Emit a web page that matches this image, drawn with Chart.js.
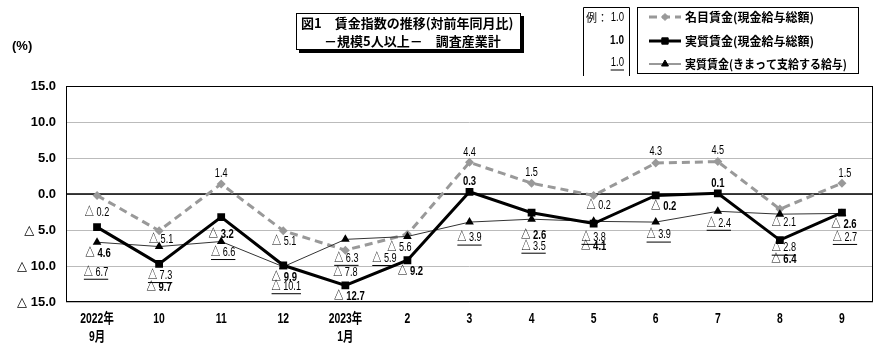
<!DOCTYPE html>
<html>
<head>
<meta charset="utf-8">
<script src="https://cdn.jsdelivr.net/npm/chart.js@4/dist/chart.umd.min.js"></script>
<style>
    body { margin: 0; background: #fff; }
    #wrap { position: relative; width: 890px; height: 353px; }
</style>
</head>
<body>
<div id="wrap"><canvas id="chartWages" width="890" height="353"></canvas></div>
<script>
const months = [['2022年', '9月'], '10', '11', '12', ['2023年', '1月'], '2', '3', '4', '5', '6', '7', '8', '9'];
const nominalWages = [-0.2, -5.1, 1.4, -5.1, -7.8, -5.6, 4.4, 1.5, -0.2, 4.3, 4.5, -2.1, 1.5];
const realWages = [-4.6, -9.7, -3.2, -9.9, -12.7, -9.2, 0.3, -2.6, -4.1, -0.2, 0.1, -6.4, -2.6];
const realScheduled = [-6.7, -7.3, -6.6, -10.1, -6.3, -5.9, -3.9, -3.5, -3.8, -3.9, -2.4, -2.8, -2.7];
const yTicks = [15, 10, 5, 0, -5, -10, -15];
const seriesNames = ['名目賃金(現金給与総額)', '実質賃金(現金給与総額)', '実質賃金(きまって支給する給与)'];

// label nudges [dx, dy] relative to each point (hand placed like the original)
const nominalLabelPos = [[0, 17], [2, 9], [0, -10], [1, 11], [0, 23], [-8, 13], [0, -10], [0, -11], [5, 10], [0, -11], [0, -11], [4, 14], [3, -10]];
const realLabelPos = [[1, 26], [0, 24], [0, 18], [1, 12], [4, 11], [3, 11], [0, -10], [2, 23], [0, 23], [8, 11], [0, -10], [4, 19], [2, 12]];
const schedLabelPos = [[-1, 30], [1, 29], [2, 11], [3, 20], [1, 19], [-23, 22], [0, 16], [2, 27], [0, 16], [3, 13], [1, 12], [4, 34], [3, 24]];

const sans = '"Liberation Sans", "Noto Sans CJK JP", sans-serif';
const jp = '"Noto Sans CJK JP", sans-serif';

function fmt(v) {
    return v < 0 ? '△ ' + Math.abs(v).toFixed(1) : v.toFixed(1);
}

// draw text squeezed horizontally, like the narrow font of the original
function squeezed(ctx, txt, x, y, k) {
    const w = ctx.measureText(txt).width * k;
    ctx.fillText(txt, x, y, w);
    return w;
}

const labelPlugin = {
    id: 'pointLabels',
    afterDatasetsDraw(chart) {
        const ctx = chart.ctx;
        const setups = [
            { idx: 0, pos: nominalLabelPos, font: '12px ' + sans, underline: false },
            { idx: 1, pos: realLabelPos, font: 'bold 12.5px ' + sans, underline: false },
            { idx: 2, pos: schedLabelPos, font: '12px ' + sans, underline: true }
        ];
        ctx.save();
        ctx.fillStyle = '#000';
        ctx.textAlign = 'center';
        ctx.textBaseline = 'middle';
        setups.forEach(s => {
            const meta = chart.getDatasetMeta(s.idx);
            const values = chart.data.datasets[s.idx].data;
            ctx.font = s.font;
            meta.data.forEach((pt, i) => {
                const x = pt.x + s.pos[i][0];
                const y = pt.y + s.pos[i][1];
                const w = squeezed(ctx, fmt(values[i]), x, y, 0.76);
                if (s.underline) {
                    ctx.fillRect(x - w / 2, y + 6.5, w, 1);
                }
            });
        });
        ctx.restore();
    }
};

const framePlugin = {
    id: 'frame',
    beforeDatasetsDraw(chart) {
        const ctx = chart.ctx;
        const a = chart.chartArea;
        const y0 = chart.scales.y.getPixelForValue(0);
        ctx.save();
        ctx.strokeStyle = '#000';
        ctx.lineWidth = 1.5;
        ctx.beginPath();
        ctx.moveTo(a.left, y0);
        ctx.lineTo(a.right, y0);
        ctx.stroke();
        ctx.lineWidth = 1;
        ctx.strokeRect(a.left + 0.5, a.top + 0.5, a.right - a.left - 1, a.bottom - a.top - 1);
        ctx.restore();
    },
    afterDraw(chart) {
        const ctx = chart.ctx;
        ctx.save();
        ctx.fillStyle = '#000';
        ctx.textBaseline = 'middle';

        // x labels, drawn narrow
        const xs = chart.scales.x;
        ctx.textAlign = 'center';
        ctx.font = 'bold 14px ' + sans;
        chart.data.labels.forEach((lab, i) => {
            const x = xs.getPixelForValue(i);
            const lines = Array.isArray(lab) ? lab : [lab];
            lines.forEach((t, j) => squeezed(ctx, t, x, 319 + j * 18, 0.74));
        });

        // unit
        ctx.textAlign = 'left';
        ctx.font = 'bold 13px ' + sans;
        ctx.fillText('(%)', 12, 46);

        // title box with shadow
        ctx.fillRect(299, 16, 225, 37);
        ctx.fillStyle = '#fff';
        ctx.fillRect(296, 13, 225, 37);
        ctx.strokeStyle = '#000';
        ctx.lineWidth = 1;
        ctx.strokeRect(296.5, 13.5, 224, 36);
        ctx.fillStyle = '#000';
        ctx.font = 'bold 13px ' + jp;
        ctx.fillText('図1　賃金指数の推移(対前年同月比)', 301, 23, 216);
        ctx.fillText('－規模5人以上－　調査産業計', 324, 41, 187);

        // example box
        ctx.beginPath();
        ctx.moveTo(583.5, 76);
        ctx.lineTo(583.5, 7.5);
        ctx.lineTo(629.5, 7.5);
        ctx.lineTo(629.5, 76);
        ctx.stroke();
        ctx.textAlign = 'right';
        ctx.font = '11px ' + jp;
        ctx.fillText('例：', 608, 18);
        ctx.font = '12px ' + sans;
        squeezed(ctx, '1.0', 624, 18, 0.8);
        ctx.font = 'bold 12.5px ' + sans;
        squeezed(ctx, '1.0', 624, 41, 0.8);
        ctx.font = '12px ' + sans;
        const uw = squeezed(ctx, '1.0', 624, 63, 0.8);
        ctx.fillRect(624 - uw, 69.5, uw, 1);

        // legend box
        ctx.strokeRect(637.5, 7.5, 221, 66);
        ctx.textAlign = 'left';
        ctx.font = 'bold 12px ' + jp;
        const rows = [17, 41, 64];
        const textWidths = [133, 133, 162];
        chart.data.datasets.forEach((ds, i) => {
            const y = rows[i];
            ctx.save();
            ctx.strokeStyle = ds.borderColor;
            ctx.lineWidth = ds.borderWidth;
            ctx.setLineDash(ds.borderDash || []);
            ctx.beginPath();
            ctx.moveTo(649, y);
            ctx.lineTo(681, y);
            ctx.stroke();
            ctx.restore();
            ctx.save();
            ctx.fillStyle = ds.backgroundColor;
            ctx.strokeStyle = ds.backgroundColor;
            Chart.helpers.drawPoint(ctx, {
                pointStyle: ds.pointStyle,
                radius: ds.pointRadius - 1,
                borderWidth: 1,
                rotation: 0
            }, 665, y);
            ctx.restore();
            ctx.fillText(seriesNames[i], 685, y, textWidths[i]);
        });
        ctx.restore();
    }
};

new Chart(document.getElementById('chartWages'), {
    type: 'line',
    data: {
        labels: months,
        datasets: [{
            label: seriesNames[0],
            data: nominalWages,
            borderColor: '#999999',
            backgroundColor: '#999999',
            borderWidth: 3,
            borderDash: [8, 5],
            pointStyle: 'rectRot',
            pointRadius: 4.5,
            pointBorderWidth: 0,
            order: 3
        }, {
            label: seriesNames[1],
            data: realWages,
            borderColor: '#000000',
            backgroundColor: '#000000',
            borderWidth: 3,
            pointStyle: 'rect',
            pointRadius: 5.5,
            pointBorderWidth: 0,
            order: 1
        }, {
            label: seriesNames[2],
            data: realScheduled,
            borderColor: '#333333',
            backgroundColor: '#000000',
            borderWidth: 1,
            pointStyle: 'triangle',
            pointRadius: 5,
            pointBorderWidth: 0,
            order: 2
        }]
    },
    options: {
        responsive: false,
        animation: false,
        layout: { padding: { top: 86, right: 17, left: 0, bottom: 0 } },
        plugins: {
            legend: { display: false },
            tooltip: { enabled: false }
        },
        scales: {
            x: {
                offset: true,
                grid: { display: false },
                border: { display: false },
                afterFit(scale) { scale.height = 51; },
                ticks: { display: false }
            },
            y: {
                min: -15,
                max: 15,
                afterFit(scale) { scale.width = 66; },
                afterBuildTicks(scale) { scale.ticks = yTicks.map(v => ({ value: v })); },
                grid: { color: '#bbbbbb', lineWidth: 1, drawTicks: false },
                border: { display: false },
                ticks: {
                    color: '#000',
                    padding: 10,
                    font: { family: '"Liberation Sans", "DejaVu Sans", sans-serif', size: 13, weight: 'bold' },
                    callback: v => fmt(v)
                }
            }
        }
    },
    plugins: [framePlugin, labelPlugin]
});
</script>
</body>
</html>
